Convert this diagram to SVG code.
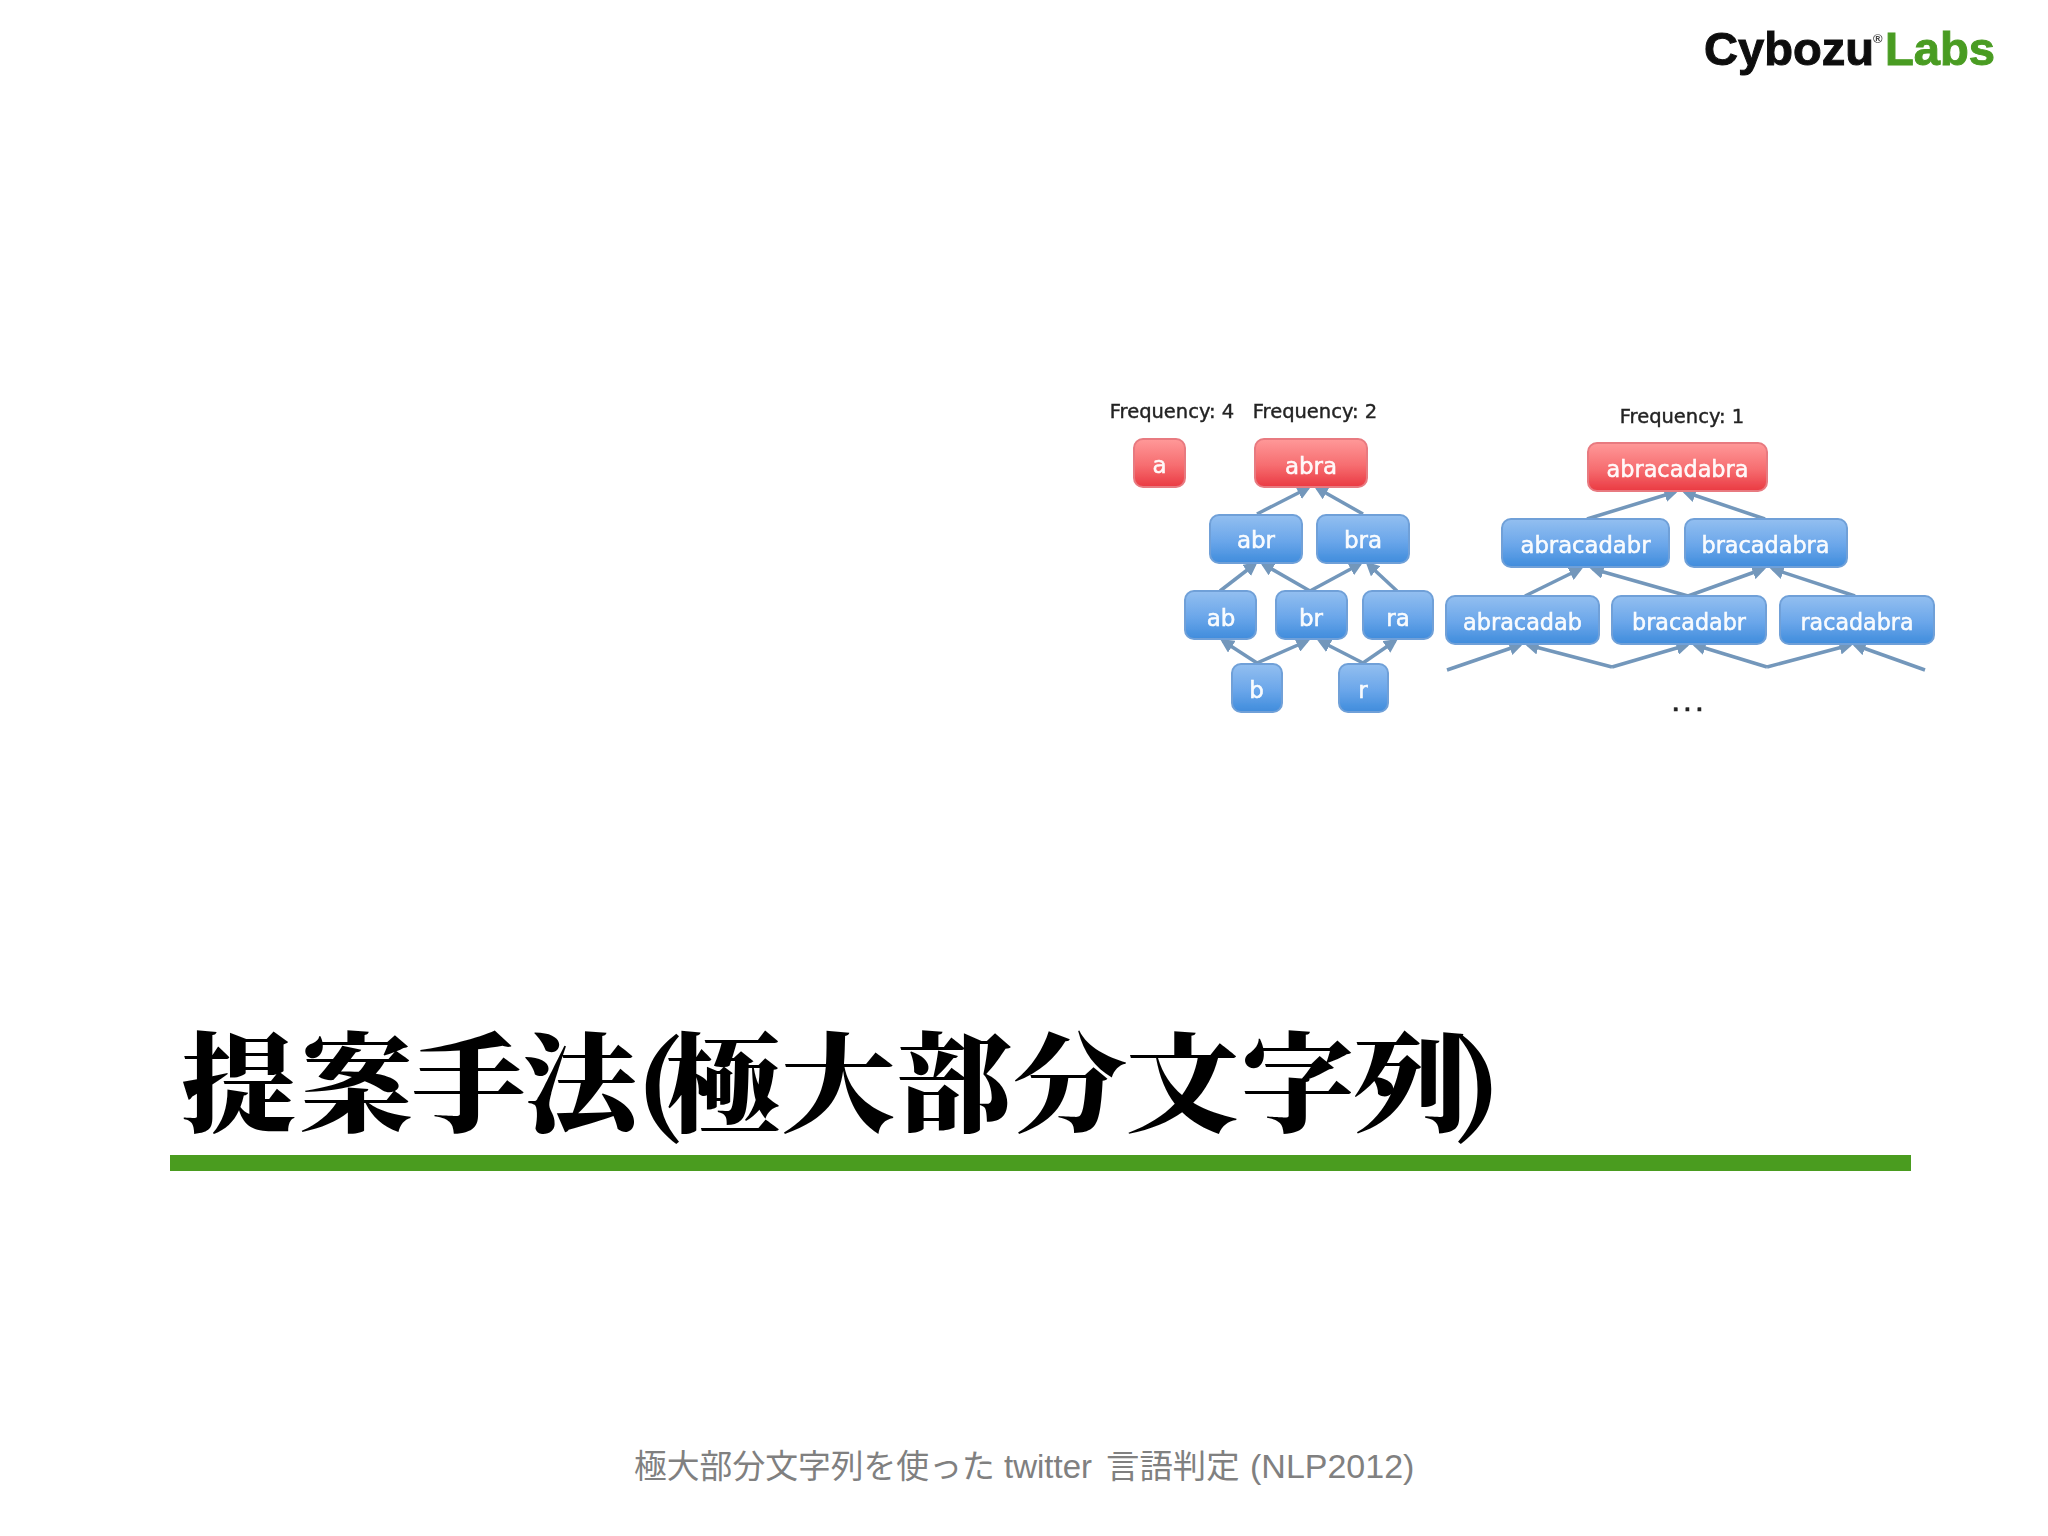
<svg xmlns="http://www.w3.org/2000/svg" width="2048" height="1536" viewBox="0 0 2048 1536">
<style>
.box{stroke-width:2}
.blue{fill:url(#gb);stroke:#6fa0d8}
.red{fill:url(#gr);stroke:#e87a80}
.lbl{font-family:"DejaVu Sans",sans-serif;font-size:23px;fill:#fff;stroke:#fff;stroke-width:.5;text-anchor:middle;fill-opacity:.95}
.freq{font-family:"DejaVu Sans",sans-serif;font-size:19.500px;fill:#222;stroke:#222;stroke-width:.4;text-anchor:middle}
.arr{fill:none;stroke:#7397bb;stroke-width:3.500;marker-end:url(#ah)}
</style>
<defs>
<linearGradient id="gb" x1="0" y1="0" x2="0" y2="1"><stop offset="0" stop-color="#93bff0"/><stop offset=".55" stop-color="#6aa6ea"/><stop offset="1" stop-color="#3f8cdc"/></linearGradient>
<linearGradient id="gr" x1="0" y1="0" x2="0" y2="1"><stop offset="0" stop-color="#f99"/><stop offset=".55" stop-color="#f66d70"/><stop offset="1" stop-color="#ea3a42"/></linearGradient>
<marker id="ah" markerWidth="4" markerHeight="4" refX="3" refY="2" orient="auto" markerUnits="strokeWidth"><path d="M0 0L4 2L0 4z" fill="#7397bb"/></marker>
<filter id="soft" x="-2%" y="-2%" width="104%" height="104%"><feGaussianBlur stdDeviation=".6"/></filter>
</defs>
<rect width="2048" height="1536" fill="#fff"/>
<g id="logo" font-family="Liberation Sans,sans-serif" font-weight="700" filter="url(#soft)">
<text x="1704" y="65" font-size="47" textLength="170" lengthAdjust="spacingAndGlyphs" fill="#111" stroke="#111" stroke-width="1">Cybozu</text>
<text x="1873" y="43" font-size="13" fill="#444">®</text>
<text x="1885" y="65" font-size="47" textLength="110" lengthAdjust="spacingAndGlyphs" fill="#4a9c22" stroke="#4a9c22" stroke-width="1">Labs</text>
</g>
<g id="diagram" filter="url(#soft)">
<g id="connectors">
<path class="arr" d="M1257 514L1308 488"/><path class="arr" d="M1363 514L1317 488"/>
<path class="arr" d="M1220 591L1255 564"/><path class="arr" d="M1310 591L1263 564"/><path class="arr" d="M1310 591L1360 564"/><path class="arr" d="M1397 591L1368 564"/>
<path class="arr" d="M1257 663L1223 641"/><path class="arr" d="M1257 663L1307 641"/><path class="arr" d="M1363 663L1320 641"/><path class="arr" d="M1363 663L1395 641"/>
<path class="arr" d="M1587 519L1675 492"/><path class="arr" d="M1765 519L1685 492"/>
<path class="arr" d="M1525 596L1580 569"/><path class="arr" d="M1688 596L1593 569"/><path class="arr" d="M1688 596L1763 569"/><path class="arr" d="M1855 596L1773 569"/>
<path class="arr" d="M1447 670L1520 645"/><path class="arr" d="M1612 667L1528 645"/><path class="arr" d="M1612 667L1687 645"/><path class="arr" d="M1767 667L1695 645"/><path class="arr" d="M1767 667L1850 645"/><path class="arr" d="M1925 670L1855 645"/>
</g>
<text id="freq4" class="freq" x="1172" y="418">Frequency: 4</text>
<text id="freq2" class="freq" x="1315" y="418">Frequency: 2</text>
<text id="freq1" class="freq" x="1682" y="423">Frequency: 1</text>
<g id="n-a"><rect class="box red" x="1134" y="439" width="51" height="48" rx="9"/><text class="lbl" x="1159.500" y="473">a</text></g>
<g id="n-abra"><rect class="box red" x="1255" y="439" width="112" height="48" rx="9"/><text class="lbl" x="1311" y="474">abra</text></g>
<g id="n-abr"><rect class="box blue" x="1210" y="515" width="92" height="48" rx="9"/><text class="lbl" x="1256" y="548">abr</text></g>
<g id="n-bra"><rect class="box blue" x="1317" y="515" width="92" height="48" rx="9"/><text class="lbl" x="1363" y="548">bra</text></g>
<g id="n-ab"><rect class="box blue" x="1185" y="591" width="71" height="48" rx="9"/><text class="lbl" x="1221" y="626">ab</text></g>
<g id="n-br"><rect class="box blue" x="1276" y="591" width="71" height="48" rx="9"/><text class="lbl" x="1311" y="626">br</text></g>
<g id="n-ra"><rect class="box blue" x="1363" y="591" width="70" height="48" rx="9"/><text class="lbl" x="1398" y="626">ra</text></g>
<g id="n-b"><rect class="box blue" x="1232" y="664" width="50" height="48" rx="9"/><text class="lbl" x="1256.500" y="698">b</text></g>
<g id="n-r"><rect class="box blue" x="1339" y="664" width="49" height="48" rx="9"/><text class="lbl" x="1363" y="698">r</text></g>
<g id="n-abracadabra"><rect class="box red" x="1588" y="443" width="179" height="48" rx="9"/><text class="lbl" x="1677.500" y="477" textLength="142" lengthAdjust="spacingAndGlyphs">abracadabra</text></g>
<g id="n-abracadabr"><rect class="box blue" x="1502" y="519" width="167" height="48" rx="9"/><text class="lbl" x="1585.500" y="553" textLength="130" lengthAdjust="spacingAndGlyphs">abracadabr</text></g>
<g id="n-bracadabra"><rect class="box blue" x="1685" y="519" width="162" height="48" rx="9"/><text class="lbl" x="1765.500" y="553" textLength="128" lengthAdjust="spacingAndGlyphs">bracadabra</text></g>
<g id="n-abracadab"><rect class="box blue" x="1446" y="596" width="153" height="48" rx="9"/><text class="lbl" x="1522.500" y="630" textLength="119" lengthAdjust="spacingAndGlyphs">abracadab</text></g>
<g id="n-bracadabr"><rect class="box blue" x="1612" y="596" width="154" height="48" rx="9"/><text class="lbl" x="1689" y="630" textLength="114" lengthAdjust="spacingAndGlyphs">bracadabr</text></g>
<g id="n-racadabra"><rect class="box blue" x="1780" y="596" width="154" height="48" rx="9"/><text class="lbl" x="1857" y="630" textLength="113" lengthAdjust="spacingAndGlyphs">racadabra</text></g>
<text id="dots" x="1690" y="711" font-family="DejaVu Sans,sans-serif" font-weight="700" font-size="18" letter-spacing="5" text-anchor="middle" fill="#222" stroke="#222" stroke-width=".5">...</text>
</g>
<text id="title" transform="translate(0 1123) scale(1.06 1)" font-family="Noto Serif CJK JP,Noto Sans CJK JP,sans-serif" font-weight="900" font-size="108" fill="#000" x="171 282 388 493 600 628 737 846 955 1062 1170 1276 1371">提案手法(極大部分文字列)</text>
<rect id="rule" x="170" y="1155" width="1741" height="16" fill="#4a9c1f"/>
<text id="footer" y="1478" font-family="Liberation Sans,Noto Sans CJK JP,sans-serif" font-size="33" fill="#808080"><tspan x="634" font-size="32.800">極大部分文字列を使った</tspan><tspan x="1004">twitter</tspan><tspan x="1106" font-size="33.400">言語判定</tspan><tspan x="1250" font-size="34">(NLP2012)</tspan></text>
</svg>
